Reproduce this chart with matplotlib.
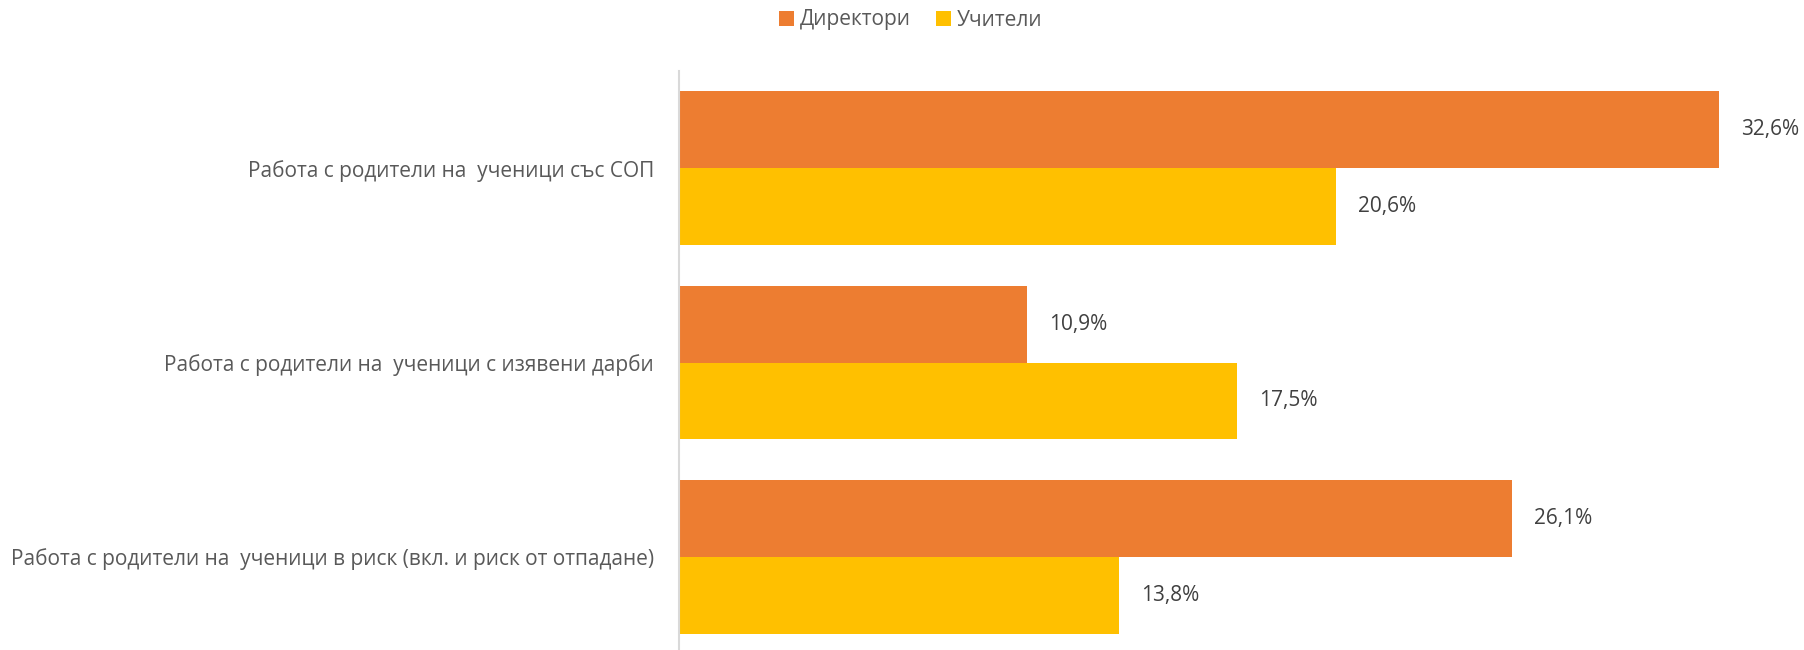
import matplotlib
matplotlib.use("Agg")
import matplotlib.pyplot as plt
import numpy as np

categories = [
    "Работа с родители на  ученици със СОП",
    "Работа с родители на  ученици с изявени дарби",
    "Работа с родители на  ученици в риск (вкл. и риск от отпадане)",
]
series_names = ["Директори", "Учители"]
directors = [32.6, 10.9, 26.1]
teachers = [20.6, 17.5, 13.8]
colors = ["#ED7D31", "#FFC000"]

plt.rcParams['font.family'] = ['Open Sans', 'DejaVu Sans']

fig = plt.figure(figsize=(18.04, 6.5), dpi=100)
ax = fig.add_axes([679/1804, -4/650, 1 - 679/1804, (650 - 71 + 4)/650])

y = np.arange(len(categories))
h = 0.395
b1 = ax.barh(y - h/2, directors, height=h, color=colors[0], label=series_names[0])
b2 = ax.barh(y + h/2, teachers, height=h, color=colors[1], label=series_names[1])

for bars, vals in ((b1, directors), (b2, teachers)):
    for rect, v in zip(bars, vals):
        ax.annotate(f"{v:.1f}".replace(".", ",") + "%",
                    xy=(rect.get_width(), rect.get_y() + rect.get_height()/2),
                    xytext=(22, 0), textcoords="offset pixels",
                    ha="left", va="center", fontsize=15, color="#404040")

ax.set_xlim(0, (1804 - 679) / 31.9)
ax.set_ylim(2.5, -0.5)
ax.set_yticks(y)
ax.set_yticklabels(categories, fontsize=15, color="#595959")
ax.tick_params(axis="y", length=0, pad=18)
ax.set_xticks([])
for s in ["top", "right", "bottom"]:
    ax.spines[s].set_visible(False)
ax.spines["left"].set_color("#D9D9D9")
ax.spines["left"].set_linewidth(1.5)

fig.legend(handles=[b1, b2], labels=series_names, loc="center", bbox_to_anchor=(0.505, 1 - 20/650),
           ncol=2, frameon=False, fontsize=15, handlelength=0.7, handleheight=0.7,
           handletextpad=0.3, columnspacing=1.2, labelcolor="#595959")

fig.savefig("out.png", dpi=100)
